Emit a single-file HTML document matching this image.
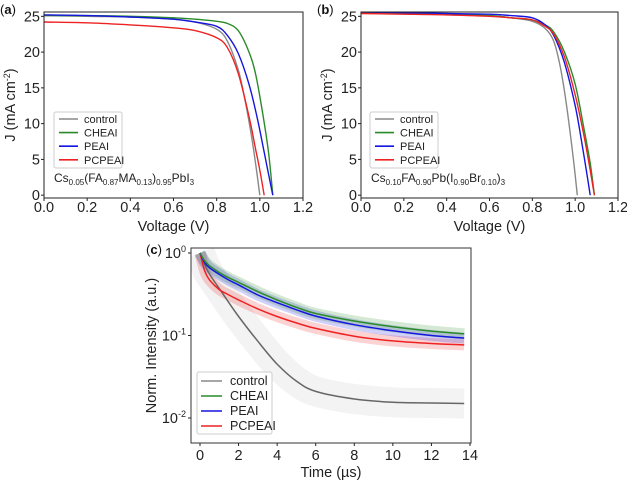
<!DOCTYPE html>
<html><head><meta charset="utf-8"><style>
body{margin:0;background:#fff}
svg{display:block;font-family:"Liberation Sans","DejaVu Sans",sans-serif}
</style></head><body>
<svg id="fig" width="627" height="483" viewBox="0 0 627 483"></svg>
<script>
// ---- data ----
const seriesNames = ["control","CHEAI","PEAI","PCPEAI"];
const seriesColors = ["#888888","#2a8a2a","#1515e0","#ee2222"];
// Panel a (V, J)
const aV_control = [0,0.2,0.4,0.6,0.7,0.8,0.85,0.9,0.93,0.96,0.98,1.0];
const aJ_control = [25.1,25.0,24.9,24.6,24.2,23.2,21.5,17.5,13.5,8.5,4.5,0];
const aV_cheai = [0,0.2,0.4,0.6,0.7,0.8,0.85,0.9,0.95,0.98,1.01,1.04,1.06];
const aJ_cheai = [25.1,25.1,25.0,24.8,24.6,24.3,24.0,23.0,20.0,17.0,12.0,6.0,0];
const aV_peai = [0,0.2,0.4,0.6,0.7,0.8,0.85,0.9,0.95,0.99,1.02,1.05,1.06];
const aJ_peai = [25.2,25.1,24.9,24.6,24.2,23.6,22.3,19.8,15.5,10.5,6.0,1.5,0];
const aV_pcpeai = [0,0.2,0.4,0.6,0.7,0.8,0.85,0.9,0.95,0.98,1.0,1.02];
const aJ_pcpeai = [24.2,24.1,23.8,23.4,23.0,22.0,20.6,17.0,11.0,6.5,3.5,0];
// Panel b
const bV_control = [0,0.2,0.4,0.6,0.7,0.8,0.86,0.9,0.93,0.96,0.99,1.01];
const bJ_control = [25.5,25.4,25.3,25.1,24.8,24.3,23.3,21.5,18.0,12.5,5.5,0];
const bV_cheai = [0,0.2,0.4,0.6,0.7,0.8,0.86,0.9,0.95,1.0,1.04,1.07,1.09];
const bJ_cheai = [25.6,25.5,25.3,25.1,24.8,24.5,23.8,22.8,20.0,15.5,9.5,4.5,0];
const bV_peai = [0,0.2,0.4,0.6,0.7,0.8,0.86,0.9,0.95,1.0,1.03,1.06,1.07];
const bJ_peai = [25.6,25.5,25.4,25.3,25.1,24.8,23.8,22.3,18.5,12.5,7.5,2.0,0];
const bV_pcpeai = [0,0.2,0.4,0.6,0.7,0.8,0.86,0.9,0.95,1.0,1.04,1.07,1.09];
const bJ_pcpeai = [25.4,25.3,25.2,25.0,24.8,24.5,23.6,22.5,19.3,14.0,8.5,3.5,0];
// Panel c (time, norm intensity)
const cT = [0,0.25,0.5,1,1.5,2,3,4,5,6,8,10,12,13.7];
const c_control = [1,0.72,0.55,0.37,0.25,0.17,0.085,0.045,0.028,0.021,0.017,0.0155,0.0152,0.015];
const c_cheai = [1,0.8,0.7,0.58,0.5,0.44,0.34,0.27,0.22,0.185,0.15,0.128,0.113,0.105];
const c_peai = [1,0.76,0.66,0.55,0.47,0.41,0.31,0.25,0.205,0.172,0.135,0.114,0.1,0.093];
const c_pcpeai = [1,0.6,0.47,0.36,0.31,0.27,0.21,0.17,0.142,0.122,0.098,0.086,0.08,0.077];
const jvXTicks = ["0.0","0.2","0.4","0.6","0.8","1.0","1.2"];
const jvYTicks = [0,5,10,15,20,25];
const cXTicks = [0,2,4,6,8,10,12,14];

const NS="http://www.w3.org/2000/svg";
const svg=document.getElementById('fig');
function el(tag,attrs,parent,txt){const e=document.createElementNS(NS,tag);for(const k in attrs)e.setAttribute(k,attrs[k]);if(txt!==undefined)e.textContent=txt;(parent||svg).appendChild(e);return e;}
function smooth(p){
  let d='M'+p[0][0].toFixed(1)+' '+p[0][1].toFixed(1);
  for(let i=0;i<p.length-1;i++){
    const p0=p[Math.max(0,i-1)],p1=p[i],p2=p[i+1],p3=p[Math.min(p.length-1,i+2)];
    const c1=[p1[0]+(p2[0]-p0[0])/6,p1[1]+(p2[1]-p0[1])/6];
    const c2=[p2[0]-(p3[0]-p1[0])/6,p2[1]-(p3[1]-p1[1])/6];
    d+=` C${c1[0].toFixed(1)} ${c1[1].toFixed(1)} ${c2[0].toFixed(1)} ${c2[1].toFixed(1)} ${p2[0].toFixed(1)} ${p2[1].toFixed(1)}`;
  }
  return d;
}

function jvPanel(id,L,R,T,B,label,vs,js,comp,legX){
  const g=el('g',{});
  
  
  const x=v=>L+(v/1.2)*(R-L);
  const y=j=>B-1.4-(j+0.2)/26*(B-T);
  const cp=el('clipPath',{id:'clip'+id},g);el('rect',{x:L,y:T,width:R-L,height:B-T},cp);
  for(let i=0;i<4;i++){
    const p=el('path',{d:smooth(vs[i].map((v,k)=>[x(v),y(js[i][k])])),fill:'none',stroke:seriesColors[i],'stroke-width':1.4,'clip-path':'url(#clip'+id+')'},g);
    
    
  }
  const fr=el('rect',{x:L,y:T,width:R-L,height:B-T,fill:'none',stroke:'#222','stroke-width':1},g);
  
  jvXTicks.forEach(t=>{const xx=x(parseFloat(t));
    el('line',{x1:xx,x2:xx,y1:B,y2:B+3,stroke:'#222'},g);
    const tx=el('text',{x:xx,y:B+14,'font-size':14.5,'text-anchor':'middle',fill:'#222'},g,t);
    });
  jvYTicks.forEach(t=>{const yy=y(t);
    el('line',{x1:L-3,x2:L,y1:yy,y2:yy,stroke:'#222'},g);
    const tx=el('text',{x:L-4,y:yy+5,'font-size':14.5,'text-anchor':'end',fill:'#222'},g,t);
    });
  const xl=el('text',{x:(L+R)/2,y:B+33,'font-size':14.5,'text-anchor':'middle',fill:'#222'},g,'Voltage (V)');
  
  const yl=el('text',{transform:`translate(${L-29},${(T+B)/2}) rotate(-90)`,'font-size':14.5,'text-anchor':'middle',fill:'#222'},g);
  
  yl.innerHTML='J (mA cm<tspan dy="-5" font-size="9">-2</tspan><tspan dy="5">)</tspan>';
  const pl=el('text',{x:L-44,y:T+2,'font-size':13,fill:'#111'},g);
  pl.innerHTML='(<tspan font-weight="bold">'+label+'</tspan>)';
  
  const lg=el('g',{},g);
  el('rect',{x:legX,y:T+100,width:68,height:56,rx:2,fill:'#fff',stroke:'#ccc'},lg);
  seriesNames.forEach((n,i)=>{const yy=T+107+i*13.6;
    el('line',{x1:legX+5,x2:legX+24,y1:yy,y2:yy,stroke:seriesColors[i],'stroke-width':1.6},lg);
    const t=el('text',{x:legX+30,y:yy+4,'font-size':11,fill:'#222'},lg,n);
    });
  const ct=el('text',{x:L+10,y:B-16,'font-size':12,fill:'#222'},g);
  ct.innerHTML=comp;
}
const s=v=>'<tspan dy="3" font-size="8">'+v+'</tspan><tspan dy="-3">';
jvPanel('a',44,303,12,198,'a',[aV_control,aV_cheai,aV_peai,aV_pcpeai],[aJ_control,aJ_cheai,aJ_peai,aJ_pcpeai],
 'Cs'+s('0.05')+'(FA</tspan>'+s('0.87')+'MA</tspan>'+s('0.13')+')</tspan>'+s('0.95')+'PbI</tspan>'+s('3')+'</tspan>',54);
jvPanel('b',361,618,12,198,'b',[bV_control,bV_cheai,bV_peai,bV_pcpeai],[bJ_control,bJ_cheai,bJ_peai,bJ_pcpeai],
 'Cs'+s('0.10')+'FA</tspan>'+s('0.90')+'Pb(I</tspan>'+s('0.90')+'Br</tspan>'+s('0.10')+')</tspan>'+s('3')+'</tspan>',370);

// Panel c
(function(){
  const L=191,R=471,T=248,B=443;
  const g=el('g',{});
  const x=t=>200+t*(470-200)/14;
  const y=v=>253-Math.log10(v)*82.5;
  const cp=el('clipPath',{id:'clipc'},g);el('rect',{x:L,y:T,width:R-L,height:B-T},cp);
  const data=[c_control,c_cheai,c_peai,c_pcpeai];
  const order=[0,3,2,1];
  order.forEach(i=>{const p=el('path',{d:smooth(cT.map((t,k)=>[x(t),y(data[i][k])])),fill:'none',stroke:seriesColors[i],'stroke-width':i==0?30:11,'stroke-opacity':i==0?0.1:0.2,'stroke-linejoin':'round','clip-path':'url(#clipc)'},g);
    });
  order.forEach(i=>{const p=el('path',{d:smooth(cT.map((t,k)=>[x(t),y(data[i][k])])),fill:'none',stroke:i==0?'#666':seriesColors[i],'stroke-width':1.5,'clip-path':'url(#clipc)'},g);
    });
  const fr=el('rect',{x:L,y:T,width:R-L,height:B-T,fill:'none',stroke:'#333'},g);
  
  cXTicks.forEach(t=>{const xx=x(t);el('line',{x1:xx,x2:xx,y1:B,y2:B+3,stroke:'#222'},g);
    const tx=el('text',{x:xx,y:B+17,'font-size':14.5,'text-anchor':'middle',fill:'#222'},g,t);
    });
  [0,-1,-2].forEach(e=>{const yy=y(Math.pow(10,e));el('line',{x1:L-3,x2:L,y1:yy,y2:yy,stroke:'#222'},g);
    const tx=el('text',{x:L-5,y:yy+5,'font-size':14.5,'text-anchor':'end',fill:'#222'},g);
    tx.innerHTML='10<tspan dy="-6" font-size="9">'+(e==0?'0':'-'+(-e))+'</tspan>';
    });
  const xl=el('text',{x:331,y:477,'font-size':14.5,'text-anchor':'middle',fill:'#222'},g,'Time (µs)');
  
  const yl=el('text',{transform:`translate(156,${(T+B)/2}) rotate(-90)`,'font-size':14.5,'text-anchor':'middle',fill:'#222'},g,'Norm. Intensity (a.u.)');
  
  const pl=el('text',{x:146,y:254,'font-size':13,fill:'#111'},g);pl.innerHTML='(<tspan font-weight="bold">c</tspan>)';
  
  const lg=el('g',{},g);
  el('rect',{x:197,y:372,width:75,height:62,rx:2,fill:'#fff','fill-opacity':0.85,stroke:'#ccc'},lg);
  seriesNames.forEach((n,i)=>{const yy=381+i*15;
    el('line',{x1:201,x2:222,y1:yy,y2:yy,stroke:seriesColors[i],'stroke-width':1.6},lg);
    const t=el('text',{x:230,y:yy+4,'font-size':12.5,fill:'#222'},lg,n);
    });
})();
</script>
</body></html>
